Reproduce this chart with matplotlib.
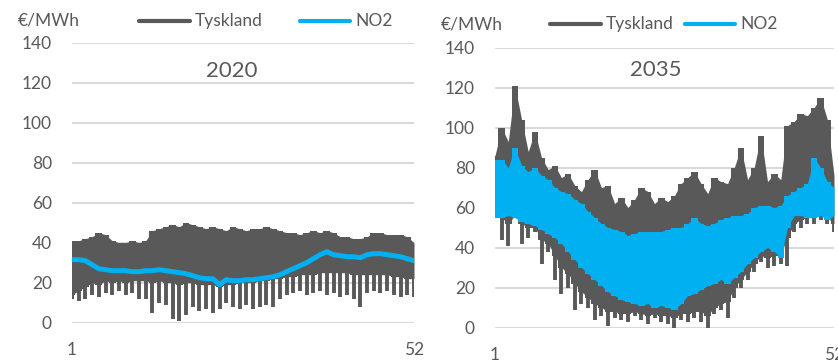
import matplotlib
matplotlib.use('Agg')
import matplotlib.pyplot as plt
from matplotlib.lines import Line2D

plt.rcParams['font.family'] = ['Lato', 'DejaVu Sans']

# ---------------- data (weekly readings) ----------------
weeks = list(range(1, 53))
x_tick_labels = ['1', '52']
y_ticks = [0, 20, 40, 60, 80, 100, 120, 140]
series_names = ['Tyskland', 'NO2']
unit_label = '€/MWh'
panel_titles = ['2020', '2035']

# 2020 - Tyskland: weekly high, typical weekday low, weekly minimum
tys_2020_top = [41, 41, 42, 43, 45, 44, 41, 40, 40, 41,
                40, 41, 46, 47, 48, 49, 48, 50, 49, 48,
                47, 48, 47, 46, 48, 47, 46, 47, 47, 48,
                47, 46, 45, 45, 44, 45, 46, 45, 46, 45,
                43, 43, 42, 42, 43, 45, 45, 44, 44, 44,
                43, 40]
tys_2020_base = [14, 16, 18, 20, 19, 21, 20, 21, 20, 21,
                 21, 21, 20, 21, 20, 20, 19, 20, 20, 19,
                 19, 19, 18, 19, 19, 20, 20, 20, 21, 21,
                 22, 22, 23, 23, 24, 24, 24, 25, 25, 25,
                 25, 25, 24, 24, 24, 24, 24, 24, 23, 23,
                 22, 22]
tys_2020_low = [12, 11, 12, 14, 13, 15, 14, 16, 14, 15,
                12, 12, 5, 10, 9, 2, 1, 4, 8, 6,
                7, 5, 7, 10, 8, 7, 9, 7, 8, 9,
                8, 12, 14, 15, 16, 14, 15, 16, 14, 15,
                13, 14, 12, 8, 15, 16, 15, 16, 14, 13,
                14, 13]
# 2020 - NO2 weekly level
no2_2020 = [31.5, 31.5, 31, 29, 27, 26.5, 26, 26, 26, 25.5,
            25.5, 26, 26, 26.5, 26, 25.5, 25, 24.5, 23.5, 22.5,
            22, 22, 19, 21.5, 21, 21, 21.5, 21.5, 22, 22.5,
            23, 24, 25.5, 27, 28.5, 30, 32, 34, 35.5, 34,
            33.5, 33, 33, 32.5, 34, 34.5, 34.5, 34, 33.5, 33,
            32, 31]

# 2035 - Tyskland
tys_2035_top = [86, 100, 93, 121, 104, 88, 98, 85, 79, 81,
                75, 77, 71, 68, 74, 79, 70, 71, 62, 65,
                60, 64, 70, 68, 62, 65, 63, 66, 72, 75,
                78, 72, 67, 75, 73, 72, 80, 90, 74, 80,
                96, 73, 77, 74, 101, 103, 107, 106, 110, 115,
                104, 76]
tys_2035_base = [58, 55, 52, 56, 52, 50, 50, 44, 42, 36,
                 30, 27, 22, 18, 15, 12, 10, 8, 8, 7,
                 7, 8, 7, 6, 7, 6, 6, 5, 7, 7,
                 8, 8, 6, 10, 12, 13, 20, 24, 28, 32,
                 36, 35, 36, 37, 45, 52, 54, 55, 55, 56,
                 55, 52]
tys_2035_low = [55, 44, 41, 55, 42, 45, 48, 32, 38, 24,
                17, 20, 9, 12, 10, 4, 6, 1, 5, 4,
                3, 6, 4, 2, 5, 3, 2, 0, 4, 3,
                5, 3, 0, 7, 9, 5, 15, 20, 24, 28,
                33, 30, 31, 32, 31, 48, 50, 52, 52, 54,
                52, 48]
# 2035 - NO2 weekly high / low
no2_2035_high = [84, 84, 80, 90, 81, 78, 80, 76, 74, 70,
                 68, 67, 64, 62, 58, 55, 52, 50, 49, 48,
                 46, 47, 48, 48, 48, 48, 49, 50, 50, 52,
                 55, 52, 51, 52, 54, 55, 56, 56, 57, 60,
                 61, 61, 60, 61, 66, 68, 70, 72, 85, 80,
                 73, 70]
no2_2035_low = [55, 55, 56, 55, 53, 52, 51, 49, 47, 45,
                42, 38, 34, 30, 27, 24, 21, 18, 16, 14,
                13, 12, 11, 12, 10, 11, 10, 9, 12, 16,
                17, 19, 21, 22, 24, 22, 25, 28, 32, 35,
                38, 40, 38, 35, 50, 56, 56, 55, 55, 56,
                54, 56]

# ---------------- style ----------------
W, H = 838, 364
GRAY = '#595959'
BLUE = '#00B0F0'
TEXT = '#595959'
GRID = '#D9D9D9'
FS_TICK = 12.5
FS_TITLE = 16

fig = plt.figure(figsize=(W / 100, H / 100), dpi=100)


def fx(px):
    return px / W


def fy(py):
    return 1 - py / H


panels = [
    dict(l=72, r=414, t=42.7, b=322.7, title_x=232, title_y=71, unit_x=18, unit_y=21,
         leg=(139, 190, 195, 300, 350, 355), leg_y=21),
    dict(l=495, r=834, t=47.7, b=327.5, title_x=656, title_y=70, unit_x=441, unit_y=24,
         leg=(550, 601, 606, 685, 735, 740), leg_y=24),
]

axes = []
for p in panels:
    ax = fig.add_axes([fx(p['l']), fy(p['b']), fx(p['r'] - p['l']), (p['b'] - p['t']) / H])
    ax.set_xlim(1, 52)
    ax.set_ylim(0, 140)
    ax.set_yticks(y_ticks)
    ax.set_xticks([1, 52])
    ax.set_xticklabels(x_tick_labels)
    ax.grid(axis='y', color=GRID, lw=1.5)
    ax.set_axisbelow(True)
    for s in ax.spines.values():
        s.set_visible(False)
    ax.tick_params(axis='y', length=0, pad=14.5, labelsize=FS_TICK, labelcolor=TEXT)
    ax.tick_params(axis='x', length=0, pad=14, labelsize=FS_TICK, labelcolor=TEXT)
    axes.append(ax)


def draw_germany(ax, top, base, low):
    # body of the hourly band, weekly blocks
    ax.fill_between(weeks, base, top, step='mid', color=GRAY, lw=0, zorder=2)
    ax.fill_between(weeks, base, top, color=GRAY, lw=0, zorder=2)
    # weekly peaks and weekend dips
    ax.vlines(weeks, base, top, color=GRAY, lw=2.6, zorder=2)
    ax.vlines(weeks, low, base, color=GRAY, lw=2.8, zorder=2)


# ----- 2020 panel -----
ax = axes[0]
draw_germany(ax, tys_2020_top, tys_2020_base, tys_2020_low)
ax.plot(weeks, no2_2020, color=BLUE, lw=3.6, zorder=3, solid_joinstyle='round')

# ----- 2035 panel -----
ax = axes[1]
draw_germany(ax, tys_2035_top, tys_2035_base, tys_2035_low)
ax.fill_between(weeks, no2_2035_low, no2_2035_high, step='mid', color=BLUE, lw=0, zorder=3)
ax.fill_between(weeks, no2_2035_low, no2_2035_high, color=BLUE, lw=0, zorder=3)

# ----- titles, units, legends -----
for p, title in zip(panels, panel_titles):
    fig.text(fx(p['title_x']), fy(p['title_y']), title, ha='center', va='center',
             fontsize=FS_TITLE, color=TEXT)
    fig.text(fx(p['unit_x']), fy(p['unit_y']), unit_label, ha='left', va='center',
             fontsize=FS_TICK, color=TEXT)
    g0, g1, gt, b0, b1, bt = p['leg']
    yy = fy(p['leg_y'])
    fig.add_artist(Line2D([fx(g0), fx(g1)], [yy, yy], color=GRAY, lw=3,
                          solid_capstyle='round', transform=fig.transFigure))
    fig.text(fx(gt), yy, series_names[0], ha='left', va='center', fontsize=FS_TICK, color=TEXT)
    fig.add_artist(Line2D([fx(b0), fx(b1)], [yy, yy], color=BLUE, lw=3,
                          solid_capstyle='round', transform=fig.transFigure))
    fig.text(fx(bt), yy, series_names[1], ha='left', va='center', fontsize=FS_TICK, color=TEXT)

fig.savefig('out.png', dpi=100)
